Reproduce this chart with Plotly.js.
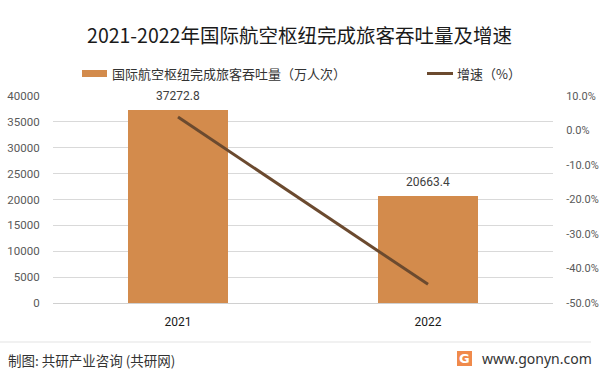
<!DOCTYPE html>
<html>
<head>
<meta charset="utf-8">
<script src="https://cdn.plot.ly/plotly-3.0.1.min.js"></script>
<style>html,body{margin:0;padding:0;background:#fff;}#chart{width:599px;height:373px;}</style>
</head>
<body>
<div id="chart"></div>
<script>
var years = ['2021', '2022'];
var throughput = [37272.8, 20663.4];
var growth = [3.9, -44.6];
var leftTicks = [0, 5000, 10000, 15000, 20000, 25000, 30000, 35000, 40000];
var rightTicks = [10, 0, -10, -20, -30, -40, -50];
var rightTickText = ['10.0%', '0.0%', '-10.0%', '-20.0%', '-30.0%', '-40.0%', '-50.0%'];
var barName = '国际航空枢纽完成旅客吞吐量（万人次）';
var lineName = '增速（%）';

var CJK = '"Noto Sans CJK SC", "Noto Sans", sans-serif';
var NUM = 'Roboto, "Noto Sans", sans-serif';
var barColor = '#D38B4C';
var lineColor = '#6B4A2F';

// plot area in pixels
var L = 53, R = 553, T = 96, B = 303;
function px(x) { return (x - L) / (R - L); }
function py(y) { return (B - y) / (B - T); }

var traces = [
  {
    type: 'bar', x: years, y: throughput, name: barName,
    marker: {color: barColor}, width: 0.4, showlegend: false
  },
  {
    type: 'scatter', mode: 'lines', x: years, y: growth, name: lineName, yaxis: 'y2',
    line: {color: lineColor, width: 3}, showlegend: false
  }
];

var annotations = [];
for (var i = 0; i < years.length; i++) {
  annotations.push({
    x: i, y: throughput[i], xref: 'x', yref: 'y',
    text: throughput[i].toFixed(1), showarrow: false,
    xanchor: 'center', yanchor: 'bottom', yshift: 5,
    font: {family: NUM, size: 12, color: '#404040'}
  });
}
// legend texts
annotations.push({xref: 'paper', yref: 'paper', x: px(110), y: py(73.5), xanchor: 'left', yanchor: 'middle',
  text: barName, showarrow: false, font: {family: CJK, size: 13, color: '#333333'}});
annotations.push({xref: 'paper', yref: 'paper', x: px(455), y: py(73.5), xanchor: 'left', yanchor: 'middle',
  text: lineName, showarrow: false, font: {family: CJK, size: 13, color: '#333333'}});
// footer
annotations.push({xref: 'paper', yref: 'paper', x: px(6), y: py(360), xanchor: 'left', yanchor: 'middle',
  text: '制图: 共研产业咨询 (共研网)', showarrow: false, font: {family: CJK, size: 13.5, color: '#333333'}});
annotations.push({xref: 'paper', yref: 'paper', x: px(480), y: py(358), xanchor: 'left', yanchor: 'middle',
  text: 'www.gonyn.com', showarrow: false, font: {family: '"Noto Sans", sans-serif', size: 14, color: '#333333'}});
annotations.push({xref: 'paper', yref: 'paper', x: px(464.5), y: py(358.5), xanchor: 'center', yanchor: 'middle',
  text: '<b>G</b>', showarrow: false, font: {family: '"DejaVu Sans", sans-serif', size: 13, color: '#ffffff'}});

var shapes = [
  {type: 'rect', xref: 'paper', yref: 'paper', x0: px(82), x1: px(107), y0: py(70), y1: py(77),
    fillcolor: barColor, line: {width: 0}},
  {type: 'line', xref: 'paper', yref: 'paper', x0: px(427), x1: px(453), y0: py(73.5), y1: py(73.5),
    line: {color: lineColor, width: 3}},
  {type: 'line', xref: 'paper', yref: 'paper', x0: px(0), x1: px(591), y0: py(342), y1: py(342),
    line: {color: '#e3e3e3', width: 1}},
  {type: 'rect', xref: 'paper', yref: 'paper', x0: px(457), x1: px(472), y0: py(351), y1: py(366),
    fillcolor: '#F08A4B', line: {width: 0}, layer: 'below'}
];

var layout = {
  width: 599, height: 373,
  margin: {l: L, r: 599 - R, t: T, b: 373 - B, pad: 0},
  paper_bgcolor: '#ffffff', plot_bgcolor: '#ffffff',
  showlegend: false,
  title: {
    text: '2021-2022年国际航空枢纽完成旅客吞吐量及增速',
    font: {family: CJK, size: 19.5, color: '#1a1a1a'},
    xref: 'container', x: 0.5, xanchor: 'center',
    yref: 'container', y: 1 - 36 / 373, yanchor: 'middle'
  },
  xaxis: {
    type: 'category', categoryarray: years, range: [-0.5, 1.5], autorange: false,
    showgrid: false, zeroline: false, showline: false,
    ticks: 'outside', ticklen: 8, tickcolor: 'rgba(0,0,0,0)',
    tickfont: {family: NUM, size: 12, color: '#1a1a1a'}
  },
  yaxis: {
    range: [0, 40000], autorange: false, tickvals: leftTicks, ticktext: leftTicks.map(String),
    showgrid: true, gridcolor: '#d9d9d9', gridwidth: 1, zeroline: true, zerolinecolor: '#d0d0d0',
    showline: false, ticks: 'outside', ticklen: 10, tickcolor: 'rgba(0,0,0,0)',
    tickfont: {family: NUM, size: 11.5, color: '#595959'}
  },
  yaxis2: {
    overlaying: 'y', side: 'right', range: [-50, 10], autorange: false, tickvals: rightTicks, ticktext: rightTickText,
    showgrid: false, zeroline: false, showline: false,
    ticks: 'outside', ticklen: 10, tickcolor: 'rgba(0,0,0,0)',
    tickfont: {family: NUM, size: 11, color: '#595959'}
  },
  annotations: annotations,
  shapes: shapes
};

Plotly.newPlot('chart', traces, layout, {displayModeBar: false, staticPlot: true});
</script>
</body>
</html>
